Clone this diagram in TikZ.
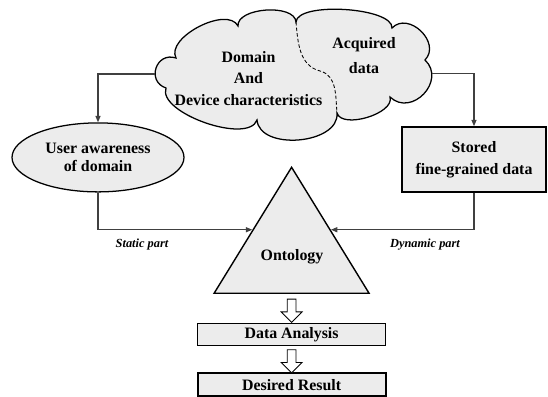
\documentclass[tikz,border=0pt]{standalone}
\usepackage{fontspec}
\setmainfont{Liberation Serif}
\usetikzlibrary{arrows.meta, positioning, shapes.geometric, shapes.arrows, calc}
\definecolor{shade}{RGB}{236,236,236}
\definecolor{wire}{RGB}{64,64,64}

\begin{document}
\begin{tikzpicture}[
		every node/.style={font=\fontsize{11.3}{13}\selectfont\bfseries, align=center},
		aware/.style={draw, ellipse, fill=shade, line width=0.9pt, minimum width=4.3cm, minimum height=1.725cm, inner sep=0pt},
		store/.style={draw, rectangle, fill=shade, line width=1pt, minimum width=3.6cm, minimum height=1.625cm},
		tri/.style={draw, isosceles triangle, isosceles triangle stretches, shape border rotate=90, minimum width=3.875cm, minimum height=3.15cm, inner sep=0pt, fill=shade, line width=1pt},
		stepbox/.style={draw, rectangle, fill=shade, line width=0.8pt, minimum width=4.7cm, minimum height=0.55cm, inner sep=0pt},
		hollow/.style={draw, single arrow, fill=white, single arrow head extend=1.5mm, inner sep=1.0mm, minimum height=5.8mm, line width=0.6pt, rotate=-90},
		wired/.style={draw=wire, line width=0.8pt, -{Triangle[length=4.5pt,width=3.6pt]}},
		sidenote/.style={font=\fontsize{8.8}{10}\selectfont\bfseries\itshape},
		]
		\useasboundingbox (0,0) rectangle (13.7,9.925);
		% cloud outline
		\coordinate (A) at (4.15,7.725);
		\coordinate (B) at (4.4,8.475);
		\coordinate (C) at (5.95,9.275);
		\coordinate (D) at (7.4,9.375);
		\coordinate (E) at (9.8,9.225);
		\coordinate (F) at (10.625,8.425);
		\coordinate (G) at (9.75,7.5);
		\coordinate (H) at (8.425,7.1);
		\coordinate (I) at (6.425,6.925);
		\draw[fill=shade, line width=0.9pt]
			(A) to[bend left=90, looseness=1.7] (B)
			to[bend left=90, looseness=0.85] (C)
			to[bend left=90, looseness=0.82] (D)
			to[bend left=90, looseness=0.55] (E)
			to[bend left=90, looseness=1.33] (F)
			to[bend left=90, looseness=1.5] (G)
			to[bend left=90, looseness=0.8] (H)
			to[bend left=90, looseness=1.0] (I)
			to[bend left=90, looseness=0.7] cycle;
		\coordinate (kink) at (8.0,8.15);
		\draw[dash pattern=on 2.5pt off 1.5pt, line width=0.6pt] (D) to[out=-85, in=165] (kink) to[out=-15, in=95] (H);
		\coordinate (cloudL) at (3.88,8.075);
		\coordinate (cloudR) at (10.795,8.08);
		
		% nodes
		\node (domain) at (6.2125,7.9625) [font=\fontsize{11.3}{15.2}\selectfont\bfseries] {Domain\\And\\Device characteristics};
		\node (acquired) at (9.1,8.5375) [font=\fontsize{11.3}{17.7}\selectfont\bfseries] {Acquired\\data};
		\node[aware] at (2.45,5.99) (user) {User awareness\\of domain};
		\node[store] at (11.85,5.94) (stored) [font=\fontsize{11.3}{15.6}\selectfont\bfseries] {Stored\\fine-grained data};
		\node[tri, anchor=lower side] at (7.29,2.575) (onto) {};
		\node at (7.3,3.5) (ontotxt) {Ontology};
		\node[stepbox, below=7.25mm of onto.lower side] (analysis) {Data Analysis};
		\node[stepbox, below=6.5mm of analysis, line width=1.4pt, minimum height=0.58cm] (result) {Desired Result};
		\node[hollow] at ($(onto.lower side)!0.5!(analysis.north)$) (down1) {};
		\node[hollow] at ($(analysis.south)!0.5!(result.north)$) (down2) {};
		\node[sidenote] at (3.55,3.8) (static) {Static part};
		\node[sidenote] at (10.625,3.8) (dynamic) {Dynamic part};
		
		% draw arrows
		\draw[wired] (cloudL) -| (user);
		\draw[wired] (cloudR) -| (stored);
		\draw[wired] (user) |- (onto.left side);
		\draw[wired] (stored) |- (onto.right side);
	\end{tikzpicture}
\end{document}
